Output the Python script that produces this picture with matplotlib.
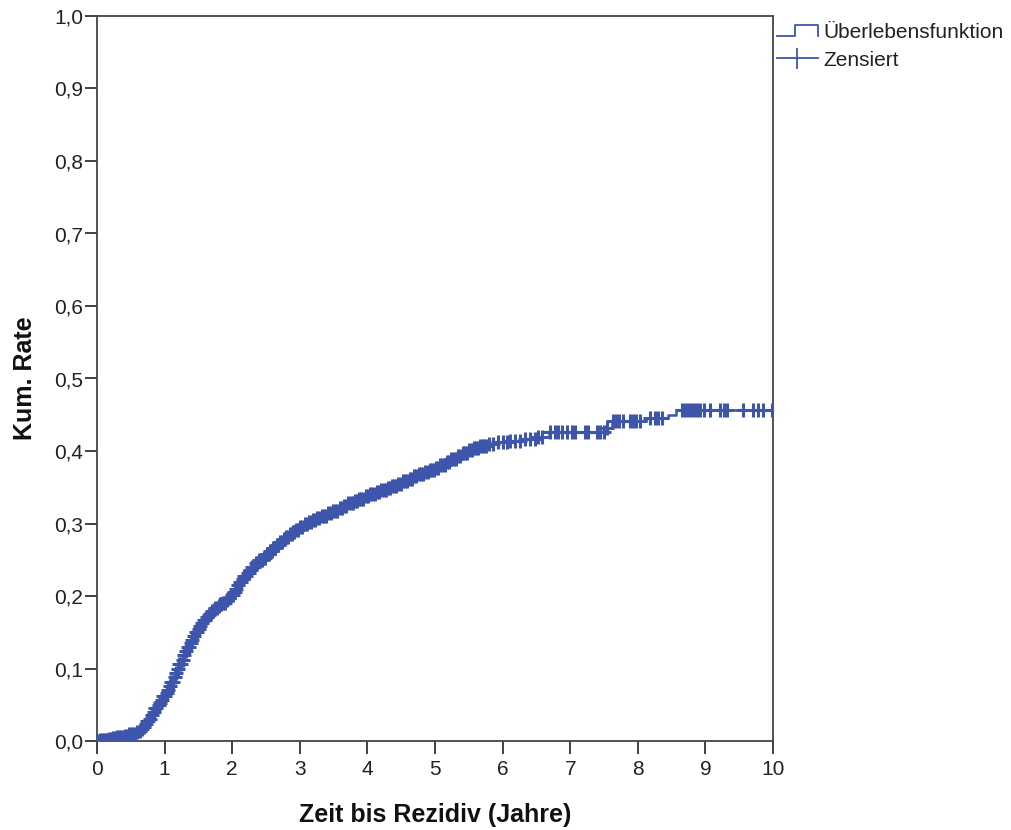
import numpy as np
import matplotlib
matplotlib.use("Agg")
import matplotlib.pyplot as plt
from matplotlib.lines import Line2D

plt.rcParams['font.family'] = ['Liberation Sans', 'DejaVu Sans']

# Step curve knots: time (years) and cumulative rate
event_times = [0.00, 0.04, 0.10, 0.16, 0.22, 0.28, 0.34, 0.40, 0.46, 0.52, 0.58, 0.62,
               0.65, 0.68, 0.71, 0.74, 0.77, 0.80, 0.83, 0.86, 0.89, 0.92, 0.95, 0.98,
               1.01, 1.04, 1.07, 1.10, 1.13, 1.16, 1.19, 1.22, 1.25, 1.28, 1.31, 1.34,
               1.37, 1.40, 1.43, 1.46, 1.49, 1.52, 1.55, 1.58, 1.61, 1.64, 1.67, 1.70,
               1.74, 1.78, 1.82, 1.86, 1.90, 1.94, 1.98, 2.02, 2.05, 2.08, 2.11, 2.14,
               2.18, 2.22, 2.26, 2.30, 2.35, 2.40, 2.45, 2.50, 2.55, 2.60, 2.65, 2.70,
               2.75, 2.80, 2.85, 2.90, 2.95, 3.00, 3.06, 3.12, 3.18, 3.25, 3.32, 3.40,
               3.48, 3.56, 3.64, 3.72, 3.80, 3.88, 3.96, 4.04, 4.12, 4.20, 4.28, 4.36,
               4.44, 4.52, 4.60, 4.68, 4.76, 4.84, 4.92, 5.00, 5.08, 5.16, 5.24, 5.32,
               5.40, 5.48, 5.56, 5.66, 5.78, 5.92, 6.10, 6.30, 6.50, 6.68, 7.52, 7.62,
               8.12, 8.45, 8.56, 10.0]
cum_rate = [0.000, 0.001, 0.002, 0.003, 0.004, 0.005, 0.006, 0.007, 0.009, 0.010, 0.012, 0.014,
            0.016, 0.019, 0.023, 0.027, 0.031, 0.036, 0.040, 0.045, 0.049, 0.053, 0.057, 0.062,
            0.066, 0.071, 0.076, 0.082, 0.088, 0.094, 0.100, 0.106, 0.112, 0.118, 0.124, 0.130,
            0.135, 0.140, 0.145, 0.150, 0.155, 0.159, 0.163, 0.167, 0.171, 0.174, 0.177, 0.180,
            0.183, 0.186, 0.189, 0.191, 0.194, 0.197, 0.201, 0.205, 0.210, 0.215, 0.219, 0.223,
            0.228, 0.232, 0.236, 0.240, 0.245, 0.249, 0.253, 0.258, 0.262, 0.266, 0.270, 0.274,
            0.278, 0.281, 0.285, 0.288, 0.291, 0.295, 0.299, 0.302, 0.305, 0.308, 0.311, 0.314,
            0.317, 0.321, 0.324, 0.328, 0.331, 0.334, 0.338, 0.341, 0.344, 0.346, 0.349, 0.352,
            0.355, 0.358, 0.362, 0.365, 0.368, 0.371, 0.374, 0.377, 0.381, 0.385, 0.389, 0.393,
            0.397, 0.401, 0.404, 0.407, 0.410, 0.412, 0.414, 0.416, 0.419, 0.426, 0.432, 0.442,
            0.445, 0.450, 0.457, 0.457]

# Censored observation times (years)
censor_times = [0.02, 0.05, 0.07, 0.10, 0.13, 0.15, 0.18, 0.21, 0.24, 0.27, 0.29, 0.32,
                0.35, 0.38, 0.41, 0.44, 0.47, 0.50, 0.53, 0.56, 0.59, 0.63, 0.66, 0.69,
                0.72, 0.74, 0.76, 0.79, 0.81, 0.84, 0.86, 0.88, 0.91, 0.93, 0.96, 0.98,
                1.00, 1.03, 1.05, 1.08, 1.10, 1.12, 1.15, 1.17, 1.20, 1.22, 1.24, 1.27,
                1.29, 1.32, 1.34, 1.36, 1.39, 1.41, 1.44, 1.46, 1.48, 1.51, 1.53, 1.56,
                1.58, 1.60, 1.63, 1.65, 1.68, 1.70, 1.72, 1.75, 1.77, 1.80, 1.82, 1.84,
                1.87, 1.89, 1.92, 1.94, 1.96, 1.99, 2.01, 2.04, 2.06, 2.08, 2.11, 2.13,
                2.16, 2.18, 2.20, 2.23, 2.25, 2.28, 2.30, 2.32, 2.35, 2.37, 2.40, 2.42,
                2.44, 2.47, 2.49, 2.52, 2.54, 2.56, 2.59, 2.61, 2.64, 2.66, 2.68, 2.71,
                2.73, 2.76, 2.78, 2.80, 2.83, 2.85, 2.88, 2.90, 2.92, 2.95, 2.97, 3.00,
                3.03, 3.07, 3.10, 3.13, 3.16, 3.20, 3.23, 3.26, 3.29, 3.33, 3.36, 3.39,
                3.42, 3.46, 3.49, 3.52, 3.55, 3.59, 3.62, 3.65, 3.68, 3.72, 3.75, 3.78,
                3.81, 3.85, 3.88, 3.91, 3.94, 3.98, 4.01, 4.04, 4.07, 4.11, 4.14, 4.17,
                4.20, 4.24, 4.27, 4.30, 4.33, 4.37, 4.40, 4.43, 4.46, 4.50, 4.53, 4.56,
                4.59, 4.63, 4.66, 4.69, 4.72, 4.76, 4.79, 4.82, 4.85, 4.89, 4.92, 4.95,
                4.98, 5.02, 5.05, 5.08, 5.11, 5.15, 5.18, 5.21, 5.24, 5.28, 5.31, 5.34,
                5.37, 5.41, 5.44, 5.47, 5.50, 5.54, 5.57, 5.60, 5.63, 5.67, 5.70, 5.73,
                5.76, 5.80, 5.86, 5.93, 6.00, 6.06, 6.11, 6.18, 6.26, 6.33, 6.41, 6.48,
                6.52, 6.58, 6.70, 6.78, 6.82, 6.88, 6.95, 7.03, 7.07, 7.22, 7.26, 7.40,
                7.44, 7.50, 7.54, 7.63, 7.68, 7.72, 7.78, 7.88, 7.93, 7.98, 8.03, 8.18,
                8.25, 8.30, 8.36, 8.65, 8.70, 8.74, 8.79, 8.83, 8.88, 8.92, 8.98, 9.07,
                9.22, 9.28, 9.32, 9.56, 9.70, 9.78, 9.85, 9.99]

x_ticks = [0, 1, 2, 3, 4, 5, 6, 7, 8, 9, 10]
y_ticks = [0.0, 0.1, 0.2, 0.3, 0.4, 0.5, 0.6, 0.7, 0.8, 0.9, 1.0]
x_label = "Zeit bis Rezidiv (Jahre)"
y_label = "Kum. Rate"
legend_labels = ["Überlebensfunktion", "Zensiert"]

color = '#3d56ab'

fig = plt.figure(figsize=(10.12, 8.30), dpi=100)
ax = fig.add_axes([97/1012, 89/830, (773-97)/1012, (741-16)/830])

ax.step(event_times, cum_rate, where='post', color=color, lw=1.8, zorder=3)
et = np.array(event_times)
cr = np.array(cum_rate)
idx = np.searchsorted(et, np.array(censor_times), side='right') - 1
cy = cr[idx]
ax.plot(censor_times, cy, ls='none', marker='+', ms=10, mew=2.2, color=color, zorder=4)

ax.set_xlim(0, 10)
ax.set_ylim(0, 1.0)
ax.set_xticks(x_ticks)
ax.set_yticks(y_ticks)
ax.set_xticklabels([str(t) for t in x_ticks])
ax.set_yticklabels([f"{t:.1f}".replace('.', ',') for t in y_ticks])
ax.tick_params(axis='both', direction='out', length=9, width=1.3, colors='#333333',
               labelsize=15, labelcolor='#222222')
ax.tick_params(axis='x', pad=5)
ax.tick_params(axis='y', pad=1)
for s in ax.spines.values():
    s.set_color('#444444')
    s.set_linewidth(1.3)

ax.set_xlabel(x_label, fontsize=18, fontweight='bold', labelpad=17, color='#111111')
ax.set_ylabel(y_label, fontsize=18, fontweight='bold', labelpad=12, color='#111111')

# Legend (manual, outside right)
W, H = 1012, 830
def fx(p):
    return p / W
def fy(p):
    return 1 - p / H
fig.add_artist(Line2D([fx(777), fx(795), fx(795), fx(818), fx(818)],
                      [fy(36.5), fy(36.5), fy(25.5), fy(25.5), fy(36)],
                      color=color, lw=1.3, transform=fig.transFigure))
fig.add_artist(Line2D([fx(777), fx(818)], [fy(58.5), fy(58.5)],
                      color=color, lw=1.3, transform=fig.transFigure))
fig.add_artist(Line2D([fx(797), fx(797)], [fy(49), fy(68)],
                      color=color, lw=1.3, transform=fig.transFigure))
fig.text(fx(823), fy(33), legend_labels[0], fontsize=15, va='center', ha='left', color='#222222')
fig.text(fx(823), fy(60), legend_labels[1], fontsize=15, va='center', ha='left', color='#222222')

fig.savefig('out.png', dpi=100, facecolor='white')
